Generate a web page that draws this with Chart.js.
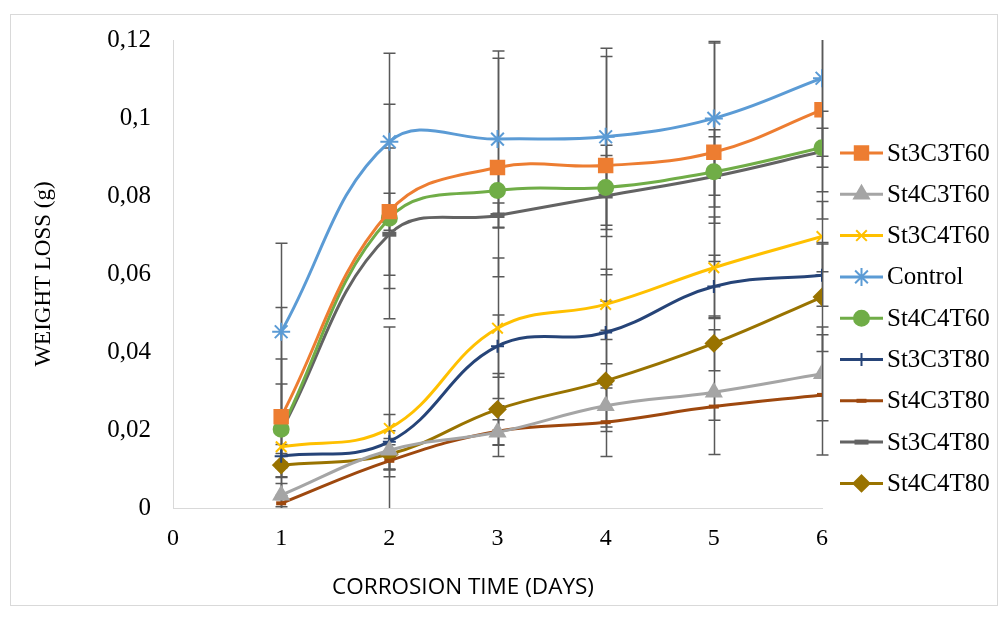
<!DOCTYPE html>
<html>
<head>
<meta charset="utf-8">
<script src="https://cdn.jsdelivr.net/npm/chart.js@4"></script>
<style>
  html, body { margin: 0; padding: 0; background: #fff; }
  #wrap { position: relative; width: 1008px; height: 617px; }
</style>
</head>
<body>
<div id="wrap"><canvas id="chart" width="1008" height="617"></canvas></div>
<script>
// Corrosion time (days)
const days = [1, 2, 3, 4, 5, 6];

// Weight loss (g) per sample
const st3c3t60 = [0.0234, 0.0760, 0.0873, 0.0878, 0.0912, 0.1021];
const st4c3t60 = [0.0033, 0.0148, 0.0194, 0.0262, 0.0297, 0.0344];
const st3c4t60 = [0.0157, 0.0204, 0.0461, 0.0522, 0.0616, 0.0696];
const control  = [0.0452, 0.0939, 0.0946, 0.0952, 0.0999, 0.1102];
const st4c4t60 = [0.0202, 0.0743, 0.0814, 0.0822, 0.0862, 0.0924];
const st3c3t80 = [0.0133, 0.0170, 0.0415, 0.0450, 0.0568, 0.0597];
const st4c3t80 = [0.0012, 0.0121, 0.0197, 0.0220, 0.0260, 0.0290];
const st3c4t80 = [0.0198, 0.0702, 0.0750, 0.0800, 0.0850, 0.0914];
const st4c4t80 = [0.0110, 0.0138, 0.0253, 0.0326, 0.0422, 0.0541];

// Error bar half-lengths (g), estimated from the caps
const errSt3c3t60 = [0.028, 0.0275, 0.028, 0.028, 0.028, 0.028];
const errSt4c3t60 = [0.003, 0.005, 0.0032, 0.0054, 0.016, 0.012];
const errSt3c4t60 = [0.004, 0.026, 0.018, 0.009, 0.013, 0.009];
const errControl  = [0.0227, 0.0227, 0.0226, 0.0227, 0.0197, 0.02];
const errSt4c4t60 = [0.018, 0.018, 0.0058, 0.0108, 0.009, 0.005];
const errSt3c3t80 = [0.003, 0.007, 0.008, 0.008, 0.008, 0.008];
const errSt4c3t80 = [0.002, 0.0041, 0.0065, 0.0088, 0.0035, 0.0154];
const errSt3c4t80 = [0.012, 0.0105, 0.0032, 0.0104, 0.012, 0.0103];
const errSt4c4t80 = [0.003, 0.004, 0.0092, 0.013, 0.007, 0.014];

const yTicks = [0, 0.02, 0.04, 0.06, 0.08, 0.1, 0.12];
const xTitle = 'CORROSION TIME (DAYS)';

const serif = '"Liberation Serif", "Times New Roman", serif';

function series(label, values, errors, color, style, radius, extra) {
  return Object.assign({
    label: label,
    data: days.map((d, i) => ({ x: d, y: values[i] })),
    errors: errors,
    borderColor: color,
    backgroundColor: color,
    pointBackgroundColor: color,
    pointBorderColor: color,
    pointStyle: style,
    pointRadius: radius,
    pointHoverRadius: radius,
    pointBorderWidth: 2,
    borderWidth: 3,
    tension: 0.4,
    fill: false
  }, extra || {});
}

// draws the vertical error bars from each dataset's errors array
const errorBars = {
  id: 'errorBars',
  beforeDatasetsDraw(chart) {
    const { ctx, chartArea, scales } = chart;
    ctx.save();
    ctx.strokeStyle = '#595959';
    ctx.lineWidth = 1.5;
    chart.data.datasets.forEach(ds => {
      ds.data.forEach((p, i) => {
        const e = ds.errors[i];
        const x = Math.round(scales.x.getPixelForValue(p.x)) + 0.5;
        let top = scales.y.getPixelForValue(p.y + e);
        let bot = scales.y.getPixelForValue(p.y - e);
        const capTop = top >= chartArea.top;
        const capBot = bot <= chartArea.bottom;
        top = Math.max(top, chartArea.top);
        bot = Math.min(bot, chartArea.bottom);
        ctx.beginPath();
        ctx.moveTo(x, top);
        ctx.lineTo(x, bot);
        if (capTop) { ctx.moveTo(x - 6, top); ctx.lineTo(x + 6, top); }
        if (capBot) { ctx.moveTo(x - 6, bot); ctx.lineTo(x + 6, bot); }
        ctx.stroke();
      });
    });
    ctx.restore();
  }
};

// Excel-like legend: line sample with marker, then label; plus x title and frame
const sideLegend = {
  id: 'sideLegend',
  afterDraw(chart) {
    const { ctx } = chart;
    const x0 = 840, x1 = 883, top = 153, step = 41.3;
    ctx.save();
    chart.data.datasets.forEach((ds, i) => {
      const y = top + i * step;
      ctx.strokeStyle = ds.borderColor;
      ctx.lineWidth = ds.borderWidth;
      ctx.beginPath();
      ctx.moveTo(x0, y);
      ctx.lineTo(x1, y);
      ctx.stroke();
      ctx.fillStyle = ds.pointBackgroundColor;
      ctx.strokeStyle = ds.pointBorderColor;
      ctx.lineWidth = ds.pointBorderWidth;
      Chart.helpers.drawPoint(ctx, {
        pointStyle: ds.pointStyle,
        radius: ds.pointRadius,
        rotation: 0,
        borderWidth: ds.pointBorderWidth
      }, (x0 + x1) / 2, y);
      ctx.fillStyle = '#000';
      ctx.font = '25px ' + serif;
      ctx.textAlign = 'left';
      ctx.textBaseline = 'middle';
      ctx.fillText(ds.label, 887, y + 1);
    });
    // x axis title, centred where the original places it
    ctx.fillStyle = '#000';
    ctx.font = '22.5px "Open Sans", sans-serif';
    ctx.textAlign = 'center';
    ctx.textBaseline = 'middle';
    ctx.fillText(xTitle, 463, 588);
    // outer frame
    ctx.strokeStyle = '#d9d9d9';
    ctx.lineWidth = 1;
    ctx.strokeRect(10.5, 14.5, 987, 591);
    ctx.restore();
  }
};

new Chart(document.getElementById('chart'), {
  type: 'line',
  data: {
    datasets: [
      series('St3C3T60', st3c3t60, errSt3c3t60, '#ED7D31', 'rect', 9.5),
      series('St4C3T60', st4c3t60, errSt4c3t60, '#A5A5A5', 'triangle', 8.5),
      series('St3C4T60', st3c4t60, errSt3c4t60, '#FFC000', 'crossRot', 7.5),
      series('Control', control, errControl, '#5B9BD5', 'star', 9),
      series('St4C4T60', st4c4t60, errSt4c4t60, '#70AD47', 'circle', 7.5),
      series('St3C3T80', st3c3t80, errSt3c3t80, '#264478', 'cross', 6.5),
      series('St4C3T80', st4c3t80, errSt4c3t80, '#9E480E', 'line', 5, { pointBorderWidth: 4 }),
      series('St3C4T80', st3c4t80, errSt3c4t80, '#636363', 'line', 7, { pointBorderWidth: 5 }),
      series('St4C4T80', st4c4t80, errSt4c4t80, '#997300', 'rectRot', 8)
    ]
  },
  options: {
    responsive: false,
    animation: false,
    events: [],
    layout: { padding: { top: 40, right: 186, bottom: 0, left: 0 } },
    plugins: {
      legend: { display: false },
      tooltip: { enabled: false }
    },
    scales: {
      x: {
        type: 'linear',
        min: 0,
        max: 6,
        afterFit(scale) { scale.height = 109; },
        grid: { drawOnChartArea: false, drawTicks: false },
        border: { display: true, color: '#d9d9d9', width: 1 },
        ticks: {
          stepSize: 1,
          padding: 16,
          color: '#000',
          font: { family: serif, size: 24 }
        },
        title: { display: false }
      },
      y: {
        min: 0,
        max: 0.12,
        afterFit(scale) { scale.width = 173; },
        afterBuildTicks(scale) { scale.ticks = yTicks.map(v => ({ value: v })); },
        grid: { drawOnChartArea: false, drawTicks: false },
        border: { display: true, color: '#d9d9d9', width: 1 },
        ticks: {
          padding: 22,
          color: '#000',
          font: { family: serif, size: 25 },
          callback: v => String(Number(v.toFixed(2))).replace('.', ',')
        },
        title: {
          display: true,
          text: 'WEIGHT LOSS (g)',
          color: '#000',
          font: { family: serif, size: 23 },
          padding: { top: 30, bottom: 0 }
        }
      }
    }
  },
  plugins: [errorBars, sideLegend]
});
</script>
</body>
</html>
